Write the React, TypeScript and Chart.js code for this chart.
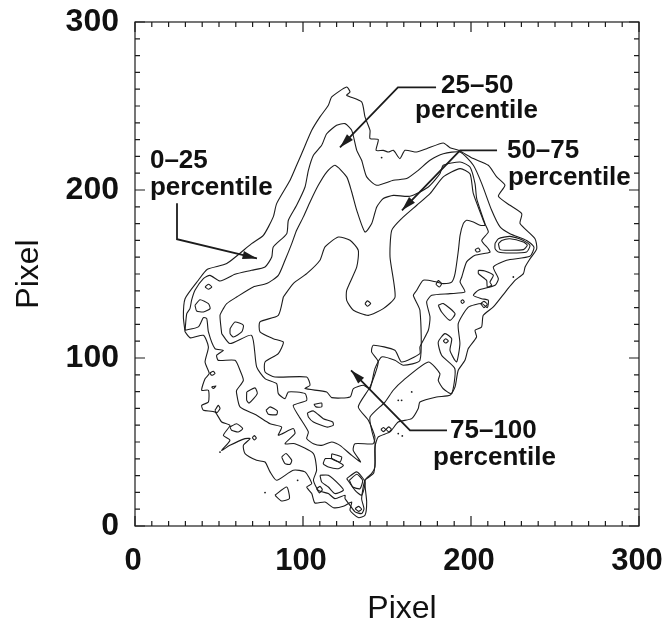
import React, { useEffect, useRef } from "react";
import { Chart, registerables } from "chart.js";

Chart.register(...registerables);

type P = [number, number];

const axisTicks = [0, 100, 200, 300];
const minorTicks = [10, 20, 30, 40, 50, 60, 70, 80, 90, 110, 120, 130, 140, 150, 160, 170, 180, 190, 210, 220, 230, 240, 250, 260, 270, 280, 290];

const contour0: P[] = [[29.8,115.5],[28.8,124.4],[29.8,135.3],[37.7,146.3],[43.1,152.8],[54.6,156.2],[69.4,168.1],[76.4,173],[82.3,184],[84.3,191.9],[92.3,205.8],[96.2,214.7],[99.2,221.6],[105.2,235.5],[110.1,243.5],[115.1,250.4],[117.1,255.4],[126,261.3],[128,258.3],[126,256.4],[134.9,252.4],[136.9,243.5],[139.9,235.5],[139.9,230.6],[144.8,230],[143.5,223.6],[147.8,223.6],[150.8,222.6],[153.8,223.6],[157.7,218.7],[160.7,223.6],[167.7,222.6],[173.6,224.6],[183.5,228],[187.5,225.2],[192.5,223.6],[201.4,218.7],[210.3,214.7],[215.3,207.8],[220.2,202.8],[216.3,196.3],[223.2,190.9],[230.2,185.9],[229.2,180],[238.1,171],[239.1,165],[235.1,159],[232.2,154.2],[231.2,150.2],[226.2,146.2],[221.2,140.3],[213.3,130.4],[207.3,125.4],[206.3,118.5],[202.4,116.5],[203.3,112.5],[198.4,105.6],[196.4,98.6],[192.4,92.7],[190.5,82.8],[187.5,77.8],[179.5,76.8],[169.6,73.8],[168.6,69.9],[164.7,63.9],[156.7,61.9],[151.8,56],[144.8,53],[142.8,47],[142.8,35.1],[140.8,31.2],[136.9,27.2],[137.9,14.3],[136.9,6.4],[132.9,5],[128,9.3],[129,14.3],[124,11.7],[118.1,10.9],[113.1,14.3],[107.1,13.7],[105.2,19.3],[102.2,23.2],[105.2,25.2],[101.2,32.2],[94.2,33.2],[84.3,27.2],[80.4,32.2],[77.4,38.1],[72.4,39.1],[65.5,43.1],[64.5,48],[68.5,52],[65.5,52],[56.5,48],[51.6,45],[56.5,51],[52.6,54],[56.5,59.9],[51.6,61.9],[47.6,67.9],[40.7,68.9],[39.7,71.8],[43.7,73.8],[43.7,80.8],[39.7,80.8],[41.7,87.7],[44.2,90.7],[41.7,97.6],[43.7,106.6],[40.7,113.5],[33,112],[29.8,115.5]];

const contour25: P[] = [[29.8,116.5],[37.7,118.5],[40.7,124],[42.7,123.4],[43.7,115.5],[47.6,105.6],[52.6,104.6],[48.6,101.6],[49.6,98.6],[59.5,98.6],[62.5,92.7],[64.5,86.7],[60.5,80.8],[60.5,78.8],[62.5,70.9],[72.4,65.9],[80.4,60.9],[87.3,58.9],[85.3,54],[94.2,58],[95.2,55],[89.3,49],[95.2,49],[106.2,43.1],[108.1,33.2],[106.2,27.2],[109.1,21.2],[115.1,19.3],[119,16.3],[125,18.3],[125,16.3],[128,12.3],[131,8.4],[134.9,7.4],[136.3,10.3],[134.9,16.3],[136.9,27.2],[141.9,31.2],[142.9,37.3],[142.9,45],[142.9,49],[140.9,57],[139.9,64.9],[148.8,73.8],[153.7,80.8],[159.7,86.7],[174.6,97.6],[181.5,90.7],[180.5,86.7],[183.5,81.7],[188.5,78.8],[190.4,93.6],[182.5,101.6],[180.5,109.5],[184.5,114.5],[188.5,111.5],[187.5,104.5],[191.4,97.6],[193.4,108.5],[192.4,120.4],[198.4,130.3],[206.4,132.4],[209.7,130],[210.3,134.4],[206.4,135.3],[201.4,137.3],[204.4,140.3],[214.3,143.3],[216.3,147.2],[213.3,154.2],[221.2,158.2],[235.1,160.5],[237.5,166],[233.1,170],[223.2,174],[217.3,178],[212.3,187.9],[206.4,203.8],[201.4,214.7],[193.5,222.6],[183.5,221.6],[175.6,217.7],[168.6,211.7],[161.7,206.8],[153.8,205.8],[143.9,202.8],[137.9,207.8],[134.9,217.7],[132,223.6],[129,235.5],[125,239.5],[120,238.5],[114.1,233.5],[111.1,226.6],[106.2,220.7],[103.2,211.7],[101.2,201.8],[96.2,190.9],[91.3,182],[90.3,174],[82.3,166.1],[81.4,160.1],[77.4,154.2],[69.4,152.2],[59.5,149.8],[50.6,145.8],[44.6,149.2],[40.7,147.2],[35.7,140.3],[33.7,134.4],[32.7,129.4],[30.8,126.4],[29.8,116.5]];

const contour50: P[] = [[51.6,114.5],[50.6,125.4],[52.6,129.4],[54.6,132.4],[60.5,136.3],[70.4,142.3],[78.4,144.3],[85.3,149.2],[89.3,158.2],[93.3,168.1],[96.2,176],[100.2,184],[104.2,192.9],[109.1,202.8],[114.1,210.7],[119,214.7],[126,207.8],[129,198.8],[132,187.9],[136.9,175],[140.9,180],[143.9,189.9],[147.8,194.9],[153.8,196.8],[163.7,196.3],[174.6,201.8],[181.5,209.7],[183.5,214.7],[193.5,216.7],[199.4,213.7],[202.4,203.8],[203.4,194.9],[208.3,180],[210.3,175],[206.4,170],[210.3,165],[211.3,163],[202.4,161.1],[197.4,157.2],[194.5,148.2],[193.5,145.2],[196.4,139.3],[187.5,138.3],[176.6,137.3],[173.6,133.4],[175.6,124.4],[174.6,116.5],[169.6,106.6],[169.6,102.6],[158.7,97.6],[154.7,104.6],[141.8,107.6],[140.8,103.6],[144.8,97.6],[139.9,82.8],[132.9,70.9],[138.9,62.9],[142.8,53],[141.8,49],[130.9,49],[129.9,45],[134.3,38.1],[129,42],[122,48],[117.1,50],[111.1,48],[106.2,49],[102.2,52],[103.2,56],[97.2,65.9],[94.2,71.8],[102.2,74.8],[101.2,78.8],[91.3,79.8],[89.3,75.8],[85.3,78.8],[84.3,84.7],[77.4,87.7],[72.4,94.7],[69.4,113.5],[56.5,108.6],[51.6,114.5]];

const contour75: P[] = [[88.3,136.3],[85.3,125.4],[74.4,121.5],[74.4,115.5],[82.3,111.5],[88.3,109.5],[85.3,102.6],[77.4,97.6],[77.4,91.7],[83.3,88.7],[102.2,88.7],[104.2,83.8],[101.2,81.8],[114.1,79.8],[117.1,76.4],[128,76.8],[130,81.8],[135.9,83.8],[139.9,81.8],[142.8,93.7],[146.8,100.6],[154.7,98.6],[159.7,95.7],[169.6,98.6],[169.6,128.4],[165.7,137.3],[167.7,140.3],[171.6,146.3],[179.6,145.2],[183.5,144.3],[188.5,145.2],[190.5,150.2],[192.5,164.1],[193.5,173],[195.4,180],[197.4,182],[201.4,181],[205.4,179],[208.3,179],[207.3,182],[201.4,197.8],[199.4,209.7],[193.5,212.7],[183.5,207.8],[175.6,197.8],[167.7,190.9],[158.7,183],[152.8,176],[151.8,160.1],[154.8,136.3],[147.8,129.4],[138.9,125.4],[130,128.4],[126,134.3],[126,140.3],[132,154.2],[132.9,164.1],[128,170.1],[121,172],[113.1,166.1],[110.1,158.2],[102.2,150.2],[94.2,144.3],[88.3,136.3]];

const islands: P[][] = [
  [[56.6,117.5],[59.5,121.4],[64.5,119.5],[63.5,115.5],[58.5,112.5],[56.6,114.5],[56.6,117.5]],
  [[35.7,131.4],[38.7,134.7],[43.7,132.4],[44.7,129.4],[40.7,127.4],[36.7,128],[35.7,131.4]],
  [[41.7,142.3],[43.7,143.9],[45.7,142.3],[43.7,140.9],[41.7,142.3]],
  [[136.9,132.4],[138.3,134],[140.3,132.4],[138.3,130.8],[136.9,132.4]],
  [[180.5,131.4],[183.5,132.4],[190.5,126.4],[187.5,122.4],[182.5,127.4],[180.5,131.4]],
  [[204.4,152.2],[208.3,151.8],[213.3,149.2],[211.3,145.2],[212.3,143.3],[209.7,142.3],[209.3,146.2],[204.4,150.2],[204.4,152.2]],
  [[180.6,146.2],[182.5,144.3],[181.2,142.3],[179.2,143.9],[180.6,146.2]],
  [[202.4,164.5],[204.4,165.5],[205.4,163.7],[203.4,163.1],[202.4,164.5]],
  [[193.9,133.7],[195,134.7],[196,133.4],[194.8,132.4],[193.9,133.7]],
  [[205.8,132.4],[207.7,133.7],[209.7,132],[207.7,130],[205.8,132.4]],
  [[214.3,168.1],[216.3,171],[223.2,172.4],[231.2,170],[235.1,167.1],[233.1,163.1],[223.2,162.5],[216.3,163.1],[214.3,165.1],[214.3,168.1]],
  [[216.3,168.1],[218.3,170],[223.2,171],[231.2,169],[233.5,167.1],[231.2,164.5],[223.2,164.1],[217.3,164.5],[216.3,168.1]],
  [[183.5,110.1],[184.9,111.5],[186.5,110.1],[184.9,108.9],[183.5,110.1]],
  [[66.5,79.8],[71.4,82.2],[72.8,78.8],[68,73.2],[66.5,74.8],[66.5,79.8]],
  [[78,68.9],[80.4,70.9],[84.7,68.5],[84.3,66.3],[79.4,66.5],[78,68.9]],
  [[106.5,72.4],[111.1,73.2],[111.1,70.9],[107.7,70.9],[106.5,72.4]],
  [[102.6,67.3],[106.2,68.5],[112.1,63.9],[117.7,61.9],[118,59.9],[114.1,58.9],[106.2,61.9],[103.2,64.9],[102.6,67.3]],
  [[87.3,41.1],[89.9,43.1],[93.3,39.1],[92.3,36.7],[89.3,37.1],[87.3,41.1]],
  [[117.1,43],[123,41.1],[122,38.1],[117.1,40.1],[117.1,43]],
  [[113.1,40.1],[117.1,40.1],[124,36.1],[121,34.1],[115.1,35.1],[112.1,37.1],[113.1,40.1]],
  [[110.1,30.2],[115.1,30.2],[122,24.2],[124,21.2],[119,19.3],[115.1,23.2],[111.1,26.2],[110.1,30.2]],
  [[126,28.2],[132,32.2],[136.9,26.2],[134.9,18.3],[131,21.2],[126,28.2]],
  [[127.6,27.2],[132,30.8],[135.5,27.2],[133.9,22.2],[129.6,23.2],[127.6,27.2]],
  [[131,10.3],[133,11.7],[134.9,10],[133,8.7],[131,10.3]],
  [[108.1,22.2],[110.1,23.6],[111.5,21.6],[109.7,19.7],[108.1,22.2]],
  [[83.3,18.3],[90.3,23.2],[91.9,16.3],[87.3,14.9],[83.3,18.3]],
  [[44.6,91.1],[46.6,92.1],[47.6,90.7],[45.6,89.7],[44.6,91.1]],
  [[45.6,82.8],[48.2,83.4],[46.6,81.8],[45.6,82.8]],
  [[47.6,68.9],[49.6,71.8],[50.6,69.9],[48.6,67.3],[47.6,68.9]],
  [[56.5,58.9],[60.5,60.9],[64.1,58],[61.5,56],[57.5,57],[56.5,58.9]],
  [[69.8,52.6],[71,53.8],[72.2,52.4],[71,51.2],[69.8,52.6]],
  [[146.4,57.4],[147.8,58.6],[149.2,57.4],[147.8,56.2],[146.4,57.4]],
  [[149.4,57.6],[151,59],[152.6,57.6],[151,56],[149.4,57.6]],
];

const specks: P[] = [[50.6,44],[77.4,19.9],[96.8,27.2],[164.7,79.8],[156.7,74.8],[158.7,74.8],[156.7,55],[159.1,53.6],[225.2,148.2],[146.8,219.3]];

const arrow0: P[] = [[25,192.1],[25,170.7],[72.6,159.3]];
const arrow25: P[] = [[179.2,261.1],[156.5,261.1],[122,225.3]];
const arrow50: P[] = [[215.5,223.6],[193.5,223.6],[158.9,187.9]];
const arrow75: P[] = [[185.7,56.9],[163.7,56.9],[128.6,92.7]];
const arrows = [arrow0, arrow25, arrow50, arrow75];

const labelTexts = ["0–25", "percentile", "25–50", "percentile", "50–75", "percentile", "75–100", "percentile"];
const labelPositions: P[] = [[8.9,212.9],[8.9,196.8],[182.2,257.6],[166.7,242.7],[221.4,218.9],[222,202.8],[187.5,52.2],[177.4,36.1]];

const xTitle = "Pixel";
const yTitle = "Pixel";

const INK = "#1c1c1c";

const frame = {
  id: "frame",
  afterDatasetsDraw(chart: any) {
    const { ctx, chartArea: a, scales } = chart;
    const x = scales.x;
    const y = scales.y;
    ctx.save();
    ctx.strokeStyle = INK;
    ctx.fillStyle = INK;
    ctx.lineWidth = 1.2;
    ctx.strokeRect(a.left, a.top, a.right - a.left, a.bottom - a.top);
    const tick = (v: number, len: number) => {
      const px = x.getPixelForValue(v);
      const py = y.getPixelForValue(v);
      ctx.beginPath();
      ctx.moveTo(px, a.bottom); ctx.lineTo(px, a.bottom - len);
      ctx.moveTo(px, a.top); ctx.lineTo(px, a.top + len);
      ctx.moveTo(a.left, py); ctx.lineTo(a.left + len, py);
      ctx.moveTo(a.right, py); ctx.lineTo(a.right - len, py);
      ctx.stroke();
    };
    minorTicks.forEach((v) => tick(v, 5));
    axisTicks.forEach((v) => tick(v, 10));

    ctx.lineWidth = 1.8;
    arrows.forEach((pts) => {
      const p = pts.map(([vx, vy]) => [x.getPixelForValue(vx), y.getPixelForValue(vy)]);
      ctx.beginPath();
      p.forEach(([a1, b1], i) => (i ? ctx.lineTo(a1, b1) : ctx.moveTo(a1, b1)));
      ctx.stroke();
      const [tx, ty] = p[p.length - 1];
      const [sx, sy] = p[p.length - 2];
      const ang = Math.atan2(ty - sy, tx - sx);
      ctx.beginPath();
      ctx.moveTo(tx, ty);
      ctx.lineTo(tx - 15 * Math.cos(ang - 0.28), ty - 15 * Math.sin(ang - 0.28));
      ctx.lineTo(tx - 15 * Math.cos(ang + 0.28), ty - 15 * Math.sin(ang + 0.28));
      ctx.closePath();
      ctx.fill();
    });

    ctx.fillStyle = "#111";
    ctx.font = "bold 26px 'Liberation Sans'";
    ctx.textAlign = "left";
    ctx.textBaseline = "alphabetic";
    labelTexts.forEach((t, i) => {
      const [vx, vy] = labelPositions[i];
      ctx.fillText(t, x.getPixelForValue(vx), y.getPixelForValue(vy));
    });

    ctx.font = "32px 'Liberation Sans'";
    ctx.textAlign = "center";
    ctx.fillText(xTitle, 402, 618);
    ctx.translate(38, 274);
    ctx.rotate(-Math.PI / 2);
    ctx.fillText(yTitle, 0, 0);
    ctx.restore();
  },
};

const line = (data: P[]) => ({
  data: data.map(([x, y]) => ({ x, y })),
  showLine: true,
  borderColor: INK,
  borderWidth: 1.1,
  pointRadius: 0,
  tension: 0.2,
  fill: false,
});

export default function App() {
  const ref = useRef<HTMLCanvasElement>(null);
  useEffect(() => {
    document.body.style.margin = "0";
    const chart = new Chart(ref.current!, {
      type: "scatter",
      data: {
        datasets: [
          line(contour0),
          line(contour25),
          line(contour50),
          line(contour75),
          ...islands.map(line),
          { data: specks.map(([x, y]) => ({ x, y })), pointRadius: 0.9, borderWidth: 0, backgroundColor: INK, showLine: false },
        ],
      },
      options: {
        animation: false,
        responsive: false,
        layout: { autoPadding: false, padding: { top: 22, right: 26, left: 0, bottom: 0 } },
        plugins: { legend: { display: false }, tooltip: { enabled: false } },
        scales: {
          x: {
            type: "linear",
            min: 0,
            max: 300,
            grid: { display: false, drawTicks: false },
            border: { display: false },
            afterFit: (s: any) => { s.height = 102; s.paddingLeft = 0; s.paddingRight = 0; },
            ticks: {
              stepSize: 100,
              padding: 17,
              maxRotation: 0,
              labelOffset: -2,
              color: "#111",
              font: { family: "'Liberation Sans'", weight: "bold", size: 31 },
            },
          },
          y: {
            type: "linear",
            min: 0,
            max: 300,
            grid: { display: false, drawTicks: false },
            border: { display: false },
            afterFit: (s: any) => { s.width = 135; s.paddingTop = 0; s.paddingBottom = 0; },
            ticks: {
              stepSize: 100,
              padding: 16,
              color: "#111",
              font: { family: "'Liberation Sans'", weight: "bold", size: 32 },
            },
          },
        },
      },
      plugins: [frame],
    } as any);
    return () => chart.destroy();
  }, []);
  return <canvas ref={ref} width={665} height={628} style={{ display: "block" }} />;
}
